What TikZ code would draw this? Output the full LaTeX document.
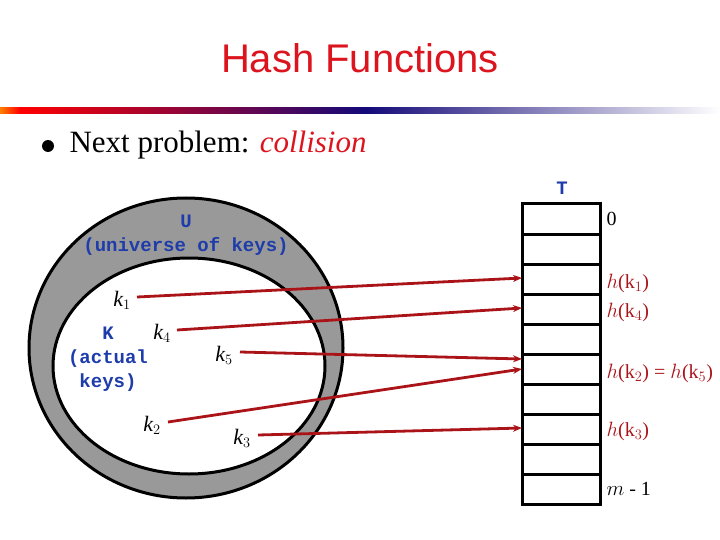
\documentclass[tikz,border=0pt]{standalone}
\usepackage{fontspec}
\setmainfont{Liberation Serif}
\setsansfont{Liberation Sans}
\setmonofont{Liberation Mono}
\usetikzlibrary{arrows.meta}
\definecolor{tred}{RGB}{220,20,30}
\definecolor{kblue}{RGB}{30,60,170}
\definecolor{ared}{RGB}{170,20,25}
\definecolor{navyb}{RGB}{20,10,120}
\begin{document}
\begin{tikzpicture}[x=1pt,y=-1pt,
  mono/.style={font=\ttfamily\bfseries\fontsize{19}{24}\selectfont,text=kblue,align=center},
  key/.style={font=\itshape\fontsize{22}{24}\selectfont},
  hl/.style={font=\fontsize{20}{22}\selectfont,text=ared,anchor=west},
  arr/.style={draw=ared,line width=2.8pt,-{Stealth[length=9pt,width=7pt]}},
  cell/.style={draw,line width=3pt}]
\useasboundingbox (0,0) rectangle (720,540);
\node[font=\sffamily\fontsize{40}{44}\selectfont,text=tred] (title) at (360,58) {Hash Functions};
\shade[left color=orange,right color=red] (0,107.5) rectangle (20,113.5);
\shade[left color=red,right color=navyb] (20,107.5) rectangle (365,113.5);
\shade[left color=navyb,right color=white] (365,107.5) rectangle (720,113.5);
\fill (48,146) circle (6);
\node[anchor=west,font=\fontsize{31}{34}\selectfont] (np) at (66,145) {Next problem: \textcolor{tred}{\itshape collision}};
% ellipses
\filldraw[fill=gray!80!white,draw=black,line width=3pt] (186,348) ellipse (157 and 150);
\filldraw[fill=white,draw=black,line width=3pt] (189,366) ellipse (136 and 108);
\node[mono] (U) at (186,235) {U\\(universe of keys)};
\node[mono] (K) at (108,359) {K\\(actual\\keys)};
% table
\draw[line width=1pt] (522,204) -- (600,204);
\foreach \i in {0,...,9} {
  \draw[cell] (522,{204+30*\i}) rectangle (600,{234+30*\i});
}
\node[mono] (T) at (562,188) {T};
\node[font=\fontsize{20}{22}\selectfont,anchor=west] (l0) at (603,219) {0};
\node[hl] (l1) at (603,283) {$h$(k$_1$)};
\node[hl] (l4) at (603,312) {$h$(k$_4$)};
\node[hl] (l25) at (603,373) {$h$(k$_2$) = $h$(k$_5$)};
\node[hl] (l3) at (603,431) {$h$(k$_3$)};
\node[font=\fontsize{20}{22}\selectfont,anchor=west] (lm) at (603,489) {$m$ - 1};
% keys
\node[key] (k1) at (122,300) {k$_1$};
\node[key] (k4) at (162,333) {k$_4$};
\node[key] (k5) at (224,355) {k$_5$};
\node[key] (k2) at (152,425) {k$_2$};
\node[key] (k3) at (242,438) {k$_3$};
\coordinate (s1) at (137,297); \coordinate (e1) at (522,278);
\coordinate (s4) at (177,330); \coordinate (e4) at (522,308);
\coordinate (s5) at (240,352); \coordinate (e5) at (522,359);
\coordinate (s2) at (168,422); \coordinate (e2) at (522,369);
\coordinate (s3) at (258,435); \coordinate (e3) at (522,428);
\foreach \k in {1,4,5,2,3} { \draw[arr] (s\k) -- (e\k); }
\end{tikzpicture}
\end{document}
